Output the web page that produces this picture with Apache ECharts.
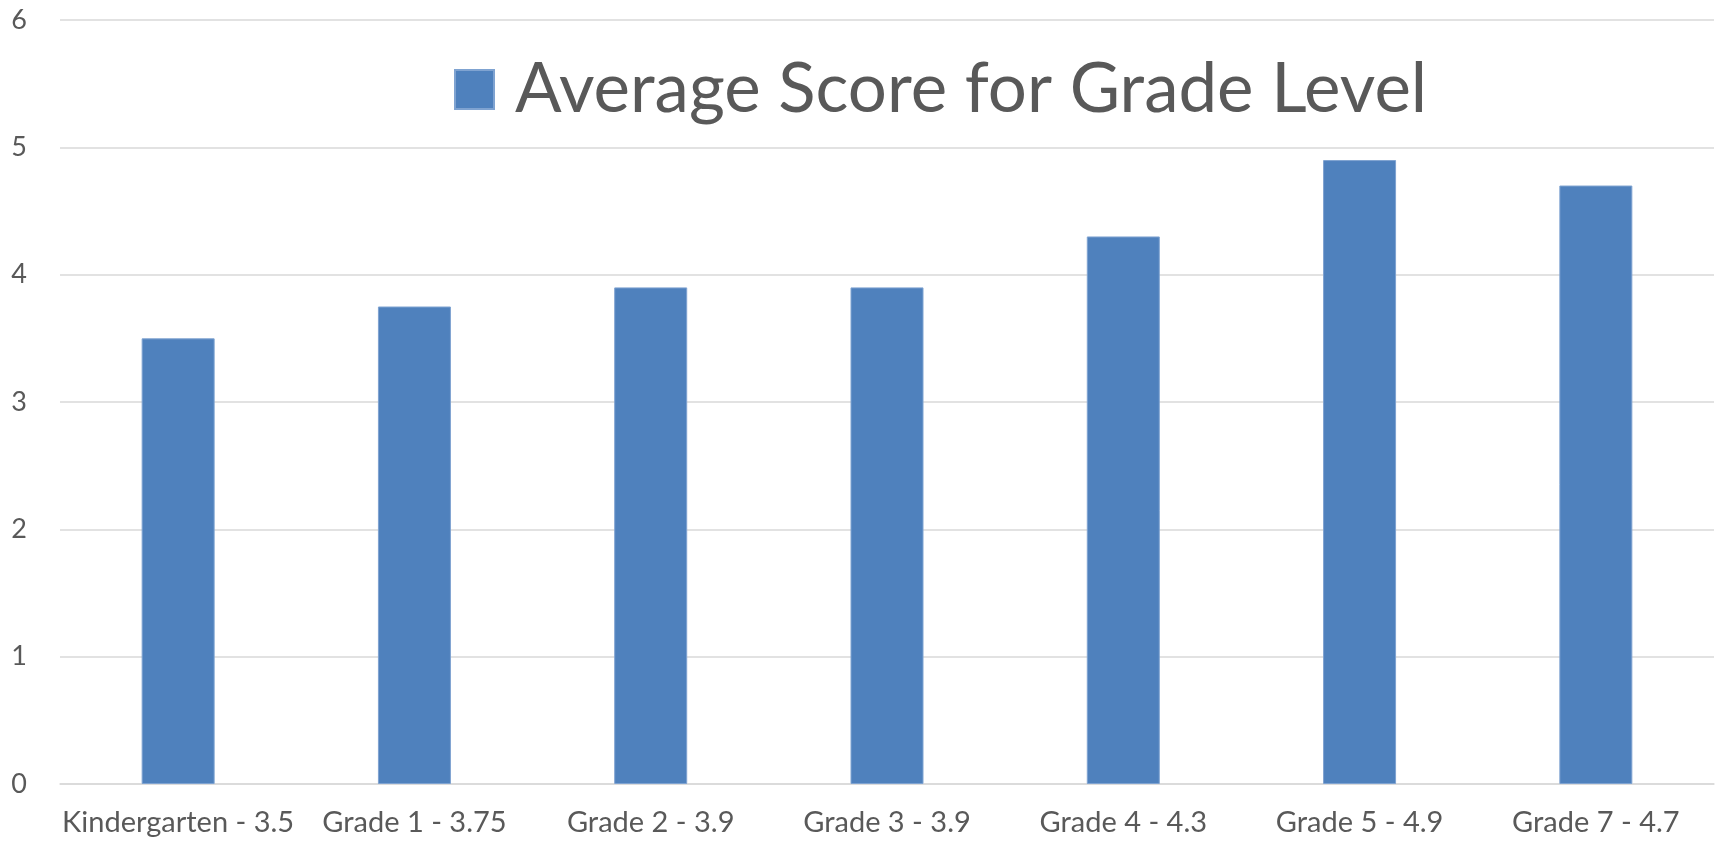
<!DOCTYPE html>
<html>
<head>
<meta charset="utf-8">
<script src="https://cdn.jsdelivr.net/npm/echarts@6/dist/echarts.min.js"></script>
<style>
  html, body { margin: 0; padding: 0; background: #fff; }
  #chart { width: 1717px; height: 842px; }
</style>
</head>
<body>
<div id="chart"></div>
<script>
const categories = ['Kindergarten - 3.5', 'Grade 1 - 3.75', 'Grade 2 - 3.9', 'Grade 3 - 3.9', 'Grade 4 - 4.3', 'Grade 5 - 4.9', 'Grade 7 - 4.7'];
const scores = [3.5, 3.75, 3.9, 3.9, 4.3, 4.9, 4.7];
const seriesName = 'Average Score for Grade Level';

const chart = echarts.init(document.getElementById('chart'));

const option = {
    animation: false,
    textStyle: { fontFamily: 'Lato' },
    legend: {
        data: [{ name: seriesName, icon: 'rect' }],
        left: 449,
        top: 50,
        itemWidth: 39,
        itemHeight: 39,
        textStyle: { fontSize: 69, color: '#595959', fontFamily: 'Lato', padding: [0, 0, 0, 16] }
    },
    grid: { left: 60, right: 3, top: 20, bottom: 58 },
    xAxis: {
        type: 'category',
        data: categories,
        axisTick: { show: false },
        axisLine: { lineStyle: { color: '#d9d9d9', width: 1.5 } },
        axisLabel: { color: '#595959', fontSize: 29, margin: 24, interval: 0 }
    },
    yAxis: {
        type: 'value',
        min: 0,
        max: 6,
        interval: 1,
        axisLine: { show: false },
        axisTick: { show: false },
        axisLabel: { color: '#595959', fontSize: 27, margin: 33 },
        splitLine: { lineStyle: { color: '#d9d9d9', width: 1.5 } }
    },
    series: [{
        name: seriesName,
        type: 'bar',
        data: scores,
        barWidth: 73,
        itemStyle: { color: '#4f81bd', borderColor: '#7fa3d1', borderWidth: 1 }
    }]
};

chart.setOption(option);
</script>
</body>
</html>
